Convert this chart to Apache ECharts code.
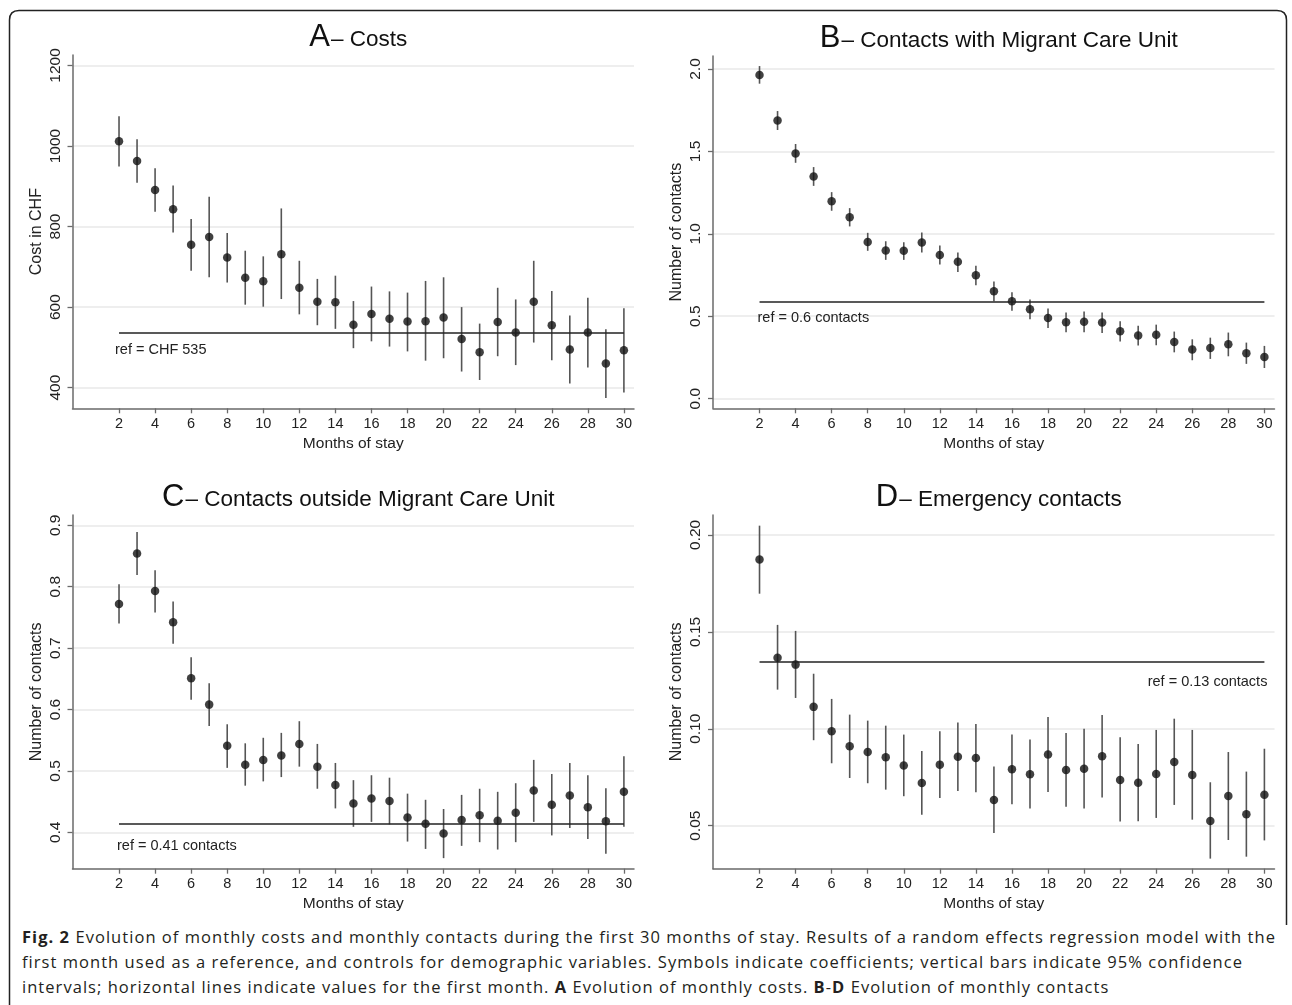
<!DOCTYPE html>
<html>
<head>
<meta charset="utf-8">
<script src="https://cdn.jsdelivr.net/npm/echarts@6/dist/echarts.min.js"></script>
<style>
  html, body { margin:0; padding:0; background:#fff; width:1292px; height:1005px; overflow:hidden; }
  #chart { position:absolute; left:0; top:0; width:1292px; height:920px; }
  #border { position:absolute; left:0; top:0; z-index:5; pointer-events:none; }
  #cap { position:absolute; left:22px; top:924px; font-family:"Open Sans", sans-serif; font-size:16.5px; line-height:25px; color:#231f20; white-space:nowrap; }
  #cap b { font-weight:700; }
</style>
</head>
<body>
<div id="chart"></div>
<svg id="border" width="1292" height="1005">
  <path d="M9.5 1005 L9.5 20 Q9.5 10.5 19 10.5 L1277 10.5 Q1286.5 10.5 1286.5 20 L1286.5 925" fill="none" stroke="#222" stroke-width="1.5"/>
</svg>
<div id="cap">
  <div class="ln"><b>Fig. 2</b> Evolution of monthly costs and monthly contacts during the first 30 months of stay. Results of a random effects regression model with the</div>
  <div class="ln">first month used as a reference, and controls for demographic variables. Symbols indicate coefficients; vertical bars indicate 95% confidence</div>
  <div class="ln">intervals; horizontal lines indicate values for the first month. <b>A</b> Evolution of monthly costs. <b>B</b>-<b>D</b> Evolution of monthly contacts</div>
</div>
<script>
// ---------- data ----------
const months = [2,3,4,5,6,7,8,9,10,11,12,13,14,15,16,17,18,19,20,21,22,23,24,25,26,27,28,29,30];
const xTicks = [2,4,6,8,10,12,14,16,18,20,22,24,26,28,30];

// A - Costs
const costEst = [1012,963,891,843,755,774,723,673,664,731,648,613,612,556,583,571,564,565,574,521,488,563,537,613,555,495,537,460,493];
const costLo  = [949,909,837,785,690,674,661,606,601,620,582,555,546,498,515,502,490,467,473,440,419,478,456,512,468,410,450,374,388];
const costHi  = [1074,1017,945,902,819,874,784,740,726,845,715,670,678,615,651,639,636,665,674,600,559,648,619,715,640,579,623,545,597];
const costRef = 536;
const costTicks = [400,600,800,1000,1200];

// B - Contacts with Migrant Care Unit
const mcuEst = [1.964,1.688,1.488,1.348,1.198,1.101,0.951,0.899,0.897,0.947,0.872,0.830,0.749,0.652,0.591,0.543,0.490,0.464,0.466,0.462,0.409,0.383,0.387,0.344,0.298,0.308,0.330,0.275,0.253];
const mcuLo  = [1.911,1.630,1.431,1.291,1.140,1.045,0.897,0.842,0.842,0.887,0.814,0.769,0.688,0.591,0.534,0.482,0.429,0.403,0.403,0.399,0.346,0.322,0.324,0.281,0.233,0.241,0.257,0.211,0.186];
const mcuHi  = [2.018,1.745,1.545,1.405,1.253,1.156,1.006,0.955,0.949,1.008,0.929,0.887,0.806,0.711,0.646,0.601,0.547,0.522,0.528,0.522,0.470,0.443,0.449,0.407,0.360,0.370,0.401,0.340,0.320];
const mcuRef = 0.587;
const mcuTicks = [0.0,0.5,1.0,1.5,2.0];

// C - Contacts outside Migrant Care Unit
const outEst = [0.772,0.854,0.793,0.742,0.651,0.608,0.541,0.510,0.518,0.525,0.544,0.507,0.477,0.447,0.455,0.451,0.424,0.414,0.398,0.420,0.428,0.419,0.432,0.468,0.445,0.460,0.441,0.418,0.466];
const outLo  = [0.740,0.819,0.758,0.707,0.616,0.573,0.505,0.476,0.483,0.490,0.507,0.471,0.439,0.409,0.417,0.413,0.385,0.373,0.358,0.378,0.384,0.372,0.384,0.417,0.395,0.407,0.389,0.365,0.409];
const outHi  = [0.804,0.889,0.827,0.776,0.685,0.643,0.576,0.545,0.554,0.562,0.581,0.544,0.513,0.485,0.493,0.489,0.463,0.453,0.438,0.461,0.471,0.466,0.480,0.518,0.495,0.513,0.493,0.472,0.524];
const outRef = 0.414;
const outTicks = [0.4,0.5,0.6,0.7,0.8,0.9];

// D - Emergency contacts
const emEst = [0.1873,0.1367,0.1331,0.1113,0.0987,0.0910,0.0880,0.0853,0.0810,0.0720,0.0815,0.0856,0.0849,0.0633,0.0791,0.0765,0.0867,0.0787,0.0794,0.0858,0.0736,0.0722,0.0767,0.0829,0.0762,0.0524,0.0653,0.0559,0.0660];
const emLo  = [0.1697,0.1202,0.1159,0.0941,0.0822,0.0746,0.0719,0.0686,0.0652,0.0557,0.0643,0.0679,0.0672,0.0462,0.0610,0.0588,0.0674,0.0598,0.0588,0.0646,0.0521,0.0523,0.0540,0.0607,0.0531,0.0330,0.0426,0.0340,0.0424];
const emHi  = [0.2048,0.1536,0.1505,0.1284,0.1154,0.1073,0.1042,0.1016,0.0970,0.0885,0.0987,0.1032,0.1025,0.0805,0.0971,0.0944,0.1061,0.0978,0.1000,0.1071,0.0956,0.0922,0.0994,0.1052,0.0994,0.0724,0.0880,0.0779,0.0897];
const emRef = 0.1345;
const emTicks = [0.05,0.10,0.15,0.20];

// ---------- panels ----------
const FONT = '"Liberation Sans", Arial, Helvetica, sans-serif';
const panels = [
  {letter:'A', title:'Costs', yName:'Cost in CHF', est:costEst, lo:costLo, hi:costHi, ref:costRef, refLabel:'ref = CHF 535', refPos:'insideStartBottom', refDist:[-4,10],
   ticks:costTicks, dec:0, ymin:348.7, ymax:1226, grid:{left:72.5, top:55, width:561.5, height:353.3}},
  {letter:'B', title:'Contacts with Migrant Care Unit', yName:'Number of contacts', est:mcuEst, lo:mcuLo, hi:mcuHi, ref:mcuRef, refLabel:'ref = 0.6 contacts', refPos:'insideStartBottom', refDist:[-2,9],
   ticks:mcuTicks, dec:1, ymin:-0.0586, ymax:2.079, grid:{left:713, top:56, width:561.5, height:352.3}},
  {letter:'C', title:'Contacts outside Migrant Care Unit', yName:'Number of contacts', est:outEst, lo:outLo, hi:outHi, ref:outRef, refLabel:'ref = 0.41 contacts', refPos:'insideStartBottom', refDist:[-2,15],
   ticks:outTicks, dec:1, ymin:0.3408, ymax:0.9168, grid:{left:72.5, top:515, width:561.5, height:353.7}},
  {letter:'D', title:'Emergency contacts', yName:'Number of contacts', est:emEst, lo:emLo, hi:emHi, ref:emRef, refLabel:'ref = 0.13 contacts', refPos:'insideEndBottom', refDist:[-3,13],
   ticks:emTicks, dec:2, ymin:0.0278, ymax:0.2103, grid:{left:713, top:515, width:561.5, height:353.7}}
];

const AXIS_COLOR = '#6a6a6a';
const option = {animation:false, backgroundColor:'transparent', title:[], grid:[], xAxis:[], yAxis:[], series:[]};

panels.forEach((p, i) => {
  const g = p.grid;
  option.grid.push({left:g.left, top:g.top, width:g.width, height:g.height, containLabel:false, outerBoundsMode:'none'});
  option.title.push({
    text:'{big|' + p.letter + '}{small|– ' + p.title + '}',
    left:g.left + g.width/2, top:g.top - 39, textAlign:'center',
    textStyle:{fontWeight:'normal', rich:{
      big:{fontFamily:FONT, fontSize:31, fontWeight:'normal', color:'#111', verticalAlign:'bottom', lineHeight:32},
      small:{fontFamily:FONT, fontSize:22.5, fontWeight:'normal', color:'#111', verticalAlign:'bottom', lineHeight:26, padding:[0,0,2,1]}
    }}
  });
  option.xAxis.push({
    type:'value', gridIndex:i, min:-0.58, max:30.56,
    name:'Months of stay', nameLocation:'middle', nameGap:27,
    nameTextStyle:{fontFamily:FONT, fontSize:15.5, color:'#222'},
    axisLine:{show:true, onZero:false, lineStyle:{color:AXIS_COLOR, width:1.5}},
    axisTick:{show:true, inside:false, length:5, customValues:xTicks, lineStyle:{color:AXIS_COLOR, width:1.3}},
    axisLabel:{show:true, customValues:xTicks, margin:8, fontFamily:FONT, fontSize:14.5, color:'#222'},
    splitLine:{show:false}
  });
  option.yAxis.push({
    type:'value', gridIndex:i, min:p.ymin, max:p.ymax,
    name:p.yName, nameLocation:'middle', nameGap:28, nameRotate:90,
    nameTextStyle:{fontFamily:FONT, fontSize:16, color:'#222'},
    axisLine:{show:true, onZero:false, lineStyle:{color:AXIS_COLOR, width:1.5}},
    axisTick:{show:true, inside:false, length:5, customValues:p.ticks, lineStyle:{color:AXIS_COLOR, width:1.3}},
    axisLabel:{show:true, customValues:p.ticks, rotate:90, margin:9, fontFamily:FONT, fontSize:15.5, color:'#222',
      formatter:(v) => Number(v).toFixed(p.dec)},
    splitLine:{show:true, lineStyle:{color:'#e8e8e8', width:1.5}}
  });
  // confidence intervals
  option.series.push({
    type:'custom', xAxisIndex:i, yAxisIndex:i, silent:true,
    data: months.map((m, k) => [m, p.lo[k], p.hi[k]]),
    encode:{x:0, y:[1,2]},
    renderItem:(params, api) => {
      const x = api.value(0);
      const a = api.coord([x, api.value(1)]);
      const b = api.coord([x, api.value(2)]);
      return {type:'line', shape:{x1:a[0], y1:a[1], x2:b[0], y2:b[1]}, style:{stroke:'#555', lineWidth:1.6}};
    },
    z:2
  });
  // reference line
  option.series.push({
    type:'line', xAxisIndex:i, yAxisIndex:i, silent:true, data:[],
    markLine:{
      silent:true, symbol:['none','none'], animation:false,
      lineStyle:{color:'#222', width:1.6, type:'solid'},
      label:{show:true, position:p.refPos, distance:p.refDist, formatter:p.refLabel, fontFamily:FONT, fontSize:14.5, color:'#222'},
      data:[[{coord:[months[0], p.ref]}, {coord:[months[months.length-1], p.ref]}]]
    },
    z:3
  });
  // point estimates
  option.series.push({
    type:'scatter', xAxisIndex:i, yAxisIndex:i, silent:true,
    data: months.map((m, k) => [m, p.est[k]]),
    symbol:'circle', symbolSize:8.5, itemStyle:{color:'#111'}, z:4
  });
});

const chart = echarts.init(document.getElementById('chart'), null, {renderer:'canvas'});
chart.setOption(option);

// fit caption lines to reference width
(function(){
  const lines = document.querySelectorAll('#cap .ln');
  const target = 1254;
  const w = lines[0].getBoundingClientRect().width;
  const n = lines[0].textContent.length;
  const ls = (target - w) / n;
  document.getElementById('cap').style.letterSpacing = ls.toFixed(3) + 'px';
})();
</script>
</body>
</html>
